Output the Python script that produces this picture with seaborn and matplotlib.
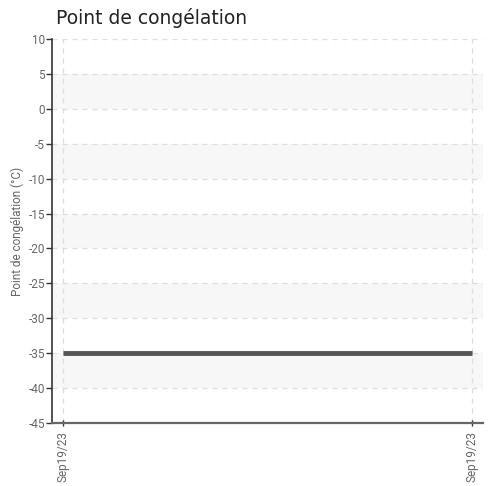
import matplotlib
matplotlib.use("Agg")
import matplotlib.pyplot as plt
import seaborn as sns
import pandas as pd

dates = ["Sep19/23", "Sep19/23"]
values = [-35, -35]
yticks = [10, 5, 0, -5, -10, -15, -20, -25, -30, -35, -40, -45]
bands = [(0, 5), (-10, -5), (-20, -15), (-30, -25), (-40, -35)]

sns.set_style("white")
plt.rcParams['font.family'] = ['DejaVu Sans']
plt.rcParams['axes.unicode_minus'] = False

df = pd.DataFrame({"pos": list(range(len(dates))), "val": values})

fig = plt.figure(figsize=(4.91, 4.86), dpi=100)
ax = fig.add_axes([0.1059, 0.1296, 0.8778, 0.7902])

for lo, hi in bands:
    ax.axhspan(lo, hi, color="#f7f7f7", zorder=0, lw=0)

sns.lineplot(data=df, x="pos", y="val", ax=ax, color="#555555", lw=3.5, zorder=3,
             solid_capstyle="butt")

ax.set_ylim(-45, 10)
ax.set_xlim(-0.027, 1.027)
ax.set_yticks(yticks)
ax.set_xticks(df["pos"])
ax.set_xticklabels(dates, rotation=90)

fam = ["Roboto", "DejaVu Sans"]
for lbl in ax.get_yticklabels() + ax.get_xticklabels():
    lbl.set_fontfamily(fam)
    lbl.set_fontsize(8.5)
    lbl.set_color("#666666")

ax.grid(True, color="#dddddd", ls=(0, (4, 4)), lw=0.9, zorder=1)
ax.set_axisbelow(True)
for s in ["top", "right"]:
    ax.spines[s].set_visible(False)
ax.spines["left"].set_color("#333333")
ax.spines["left"].set_linewidth(1.2)
ax.spines["bottom"].set_color("#666666")
ax.spines["bottom"].set_linewidth(1.6)
ax.tick_params(axis="y", length=4, width=1, color="#333333", pad=1, left=True)
ax.tick_params(axis="x", length=5, width=1, color="#333333", pad=3, bottom=True, direction="inout")

ax.set_xlabel("")
ax.set_ylabel("Point de congélation (°C)", fontsize=8.5, color="#666666",
              fontfamily=fam, labelpad=3)

fig.text(0.114, 0.963, "Point de congélation", fontsize=13.5, color="#222222", va="center")

fig.savefig("out.png", dpi=100)
